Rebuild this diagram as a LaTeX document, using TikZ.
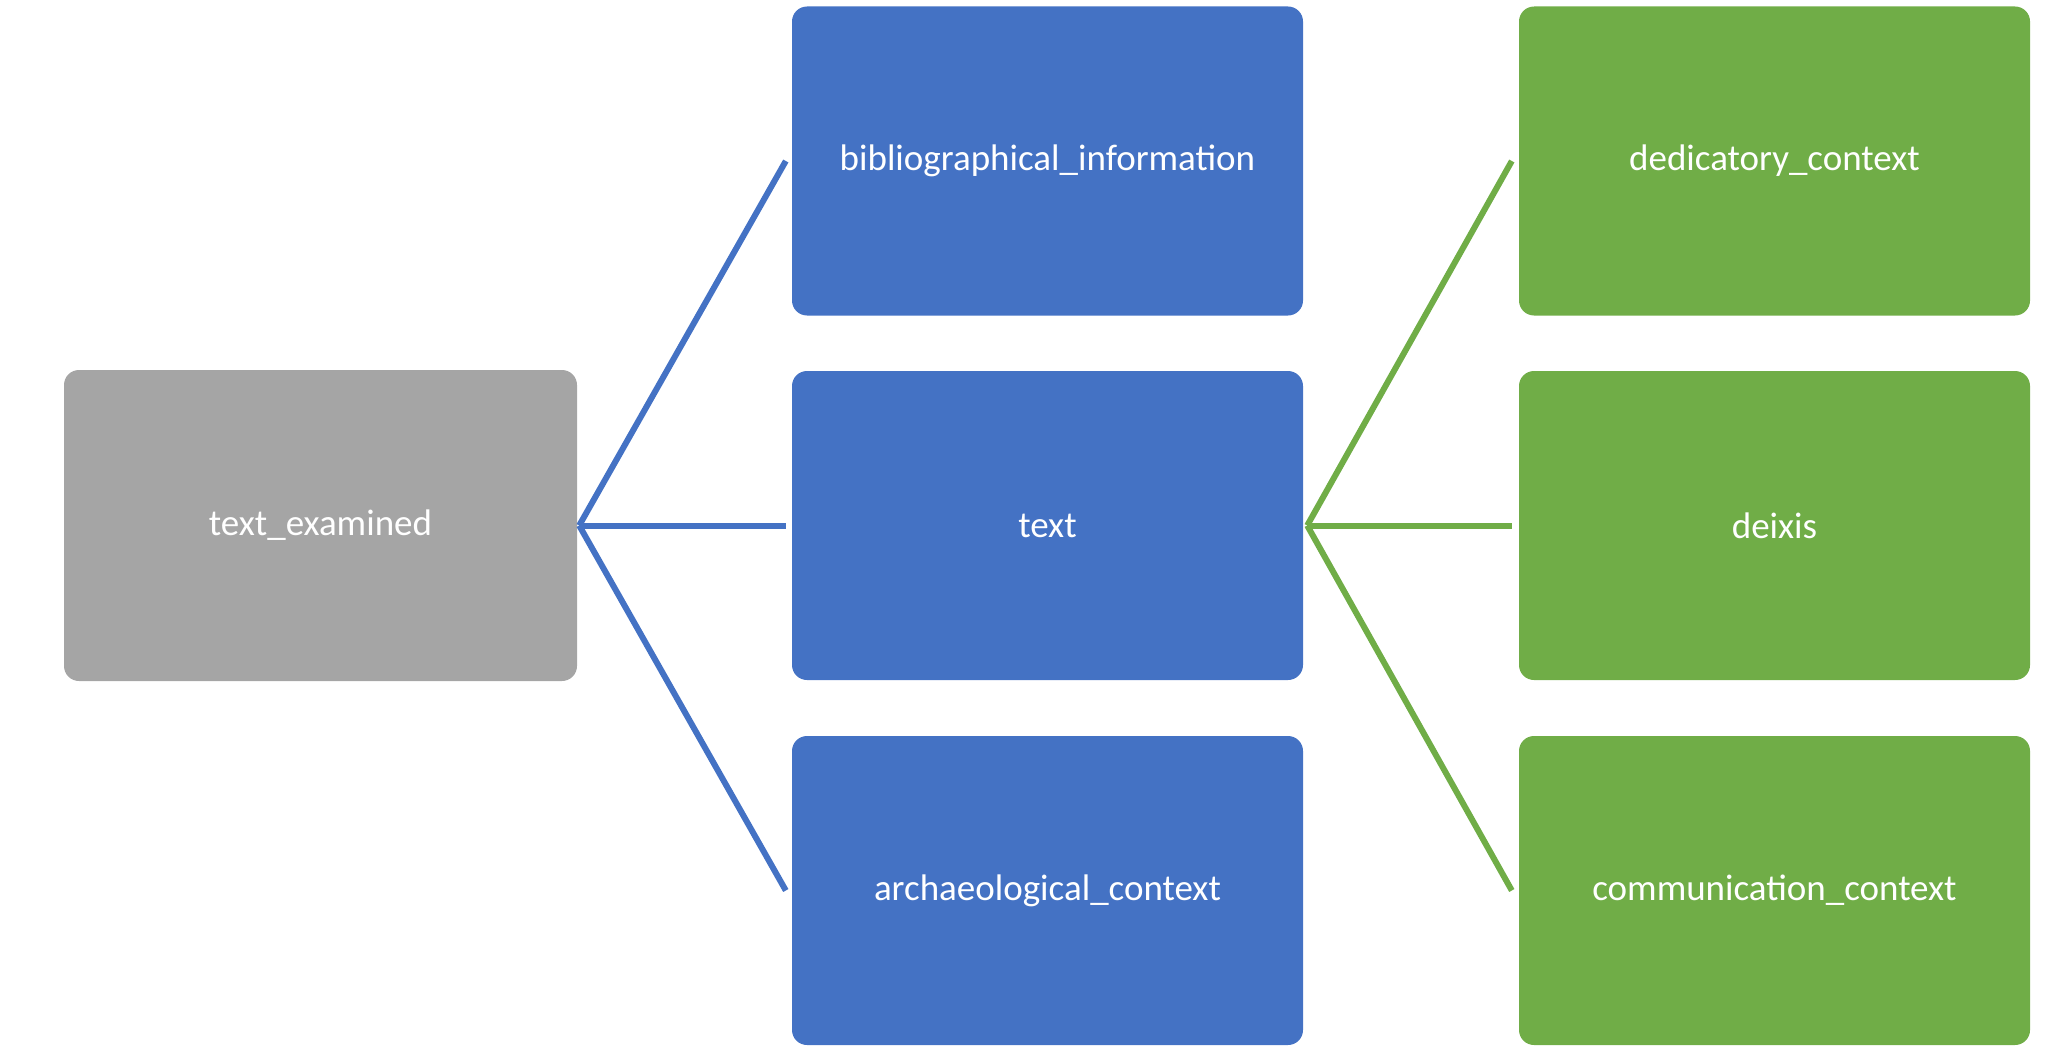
\documentclass[tikz,border=0pt]{standalone}
\usepackage{fontspec}
\setmainfont{Carlito}
\definecolor{cblue}{HTML}{4472C4}
\definecolor{cgreen}{HTML}{70AD47}
\definecolor{cgray}{HTML}{A5A5A5}
\begin{document}
\begin{tikzpicture}[x=1pt,y=-1pt,
  box/.style={rounded corners=15pt, minimum width=511pt, minimum height=309pt,
    text=white, font=\fontsize{37}{44}\selectfont, inner sep=0pt},
  conn/.style={line width=6pt}]
\useasboundingbox (0,0) rectangle (2050,1046);
\node[box, fill=cgray, minimum width=513pt, minimum height=311pt] (te) at (320.5,525.5) {text\_examined};
\node[box, fill=cblue] (bib) at (1047.5,161) {bibliographical\_information};
\node[box, fill=cblue] (txt) at (1047.5,525.5) {text};
\node[box, fill=cblue] (arc) at (1047.5,890.5) {archaeological\_context};
\node[box, fill=cgreen] (ded) at (1774.5,161) {dedicatory\_context};
\node[box, fill=cgreen] (dei) at (1774.5,525.5) {deixis};
\node[box, fill=cgreen] (com) at (1774.5,890.5) {communication\_context};
\coordinate (j1) at ([xshift=2pt]te.east);
\coordinate (j2) at ([xshift=4pt]txt.east);
\draw[conn, cblue] (j1) -- ([xshift=-6pt]bib.west);
\draw[conn, cblue] (j1) -- ([xshift=-6pt]txt.west);
\draw[conn, cblue] (j1) -- ([xshift=-6pt]arc.west);
\draw[conn, cgreen] (j2) -- ([xshift=-7pt]ded.west);
\draw[conn, cgreen] (j2) -- ([xshift=-7pt]dei.west);
\draw[conn, cgreen] (j2) -- ([xshift=-7pt]com.west);
\end{tikzpicture}
\end{document}
